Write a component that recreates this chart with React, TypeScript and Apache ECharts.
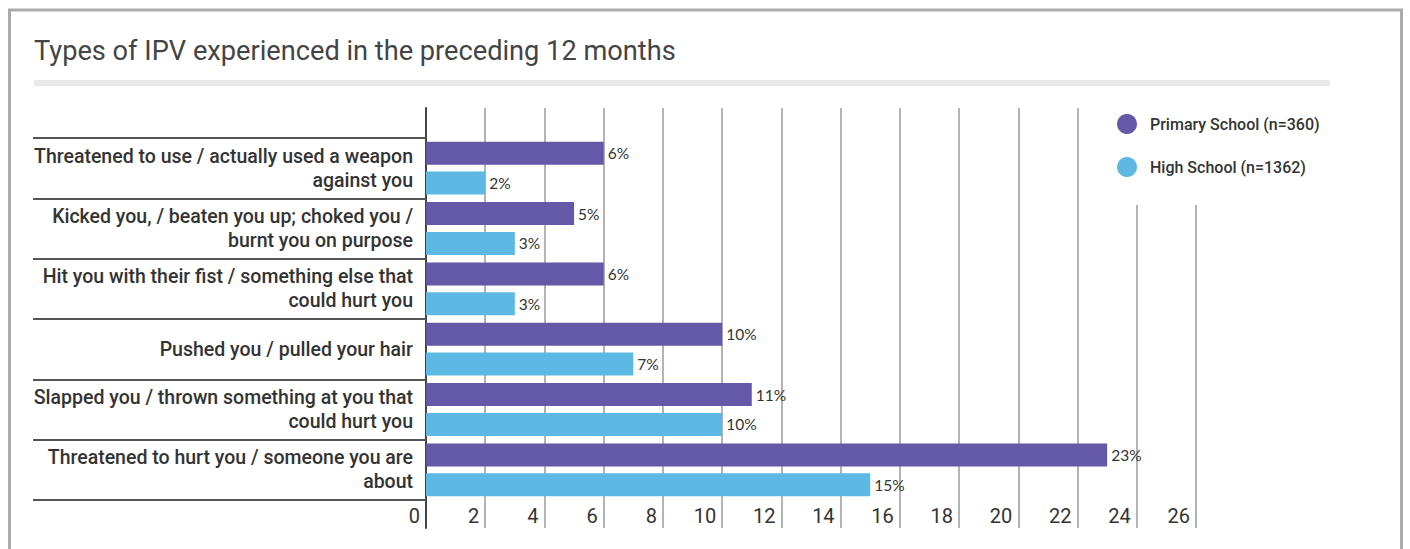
import React, { useEffect, useRef } from "react";
import * as echarts from "echarts";

const categories = [
  "Threatened to use / actually used a weapon\nagainst you",
  "Kicked you, / beaten you up; choked you /\nburnt you on purpose",
  "Hit you with their fist / something else that\ncould hurt you",
  "Pushed you / pulled your hair",
  "Slapped you / thrown something at you that\ncould hurt you",
  "Threatened to hurt you / someone you are\nabout",
];
const seriesNames = ["Primary School (n=360)", "High School (n=1362)"];
const primaryValues = [6, 5, 6, 10, 11, 23];
const highValues = [2, 3, 3, 7, 10, 15];
const xTickMax = 26;
const xTickStep = 2;
const titleText = "Types of IPV experienced in the preceding 12 months";

export default function App() {
  const ref = useRef<HTMLDivElement>(null);
  useEffect(() => {
    if (!ref.current) return;
    const chart = echarts.init(ref.current, null, { renderer: "svg" });
    const barLabel = {
      show: true,
      position: "right",
      distance: 4,
      formatter: "{c}%",
      fontSize: 15.5,
      color: "#333",
      fontFamily: "Lato",
    };
    chart.setOption({
      animation: false,
      backgroundColor: "#fff",
      title: {
        text: titleText,
        left: 34,
        top: 37,
        padding: 0,
        textStyle: { fontSize: 27.2, fontWeight: "normal", color: "#444", fontFamily: "Roboto" },
      },
      graphic: [
        {
          type: "rect",
          shape: { x: 9.5, y: 10, width: 1392, height: 600 },
          style: { fill: "none", stroke: "#ababab", lineWidth: 3 },
        },
        {
          type: "rect",
          shape: { x: 34, y: 80, width: 1296, height: 6 },
          style: { fill: "#e8e8e8" },
        },
      ],
      legend: {
        data: seriesNames,
        orient: "vertical",
        left: 1105,
        top: 104,
        backgroundColor: "#fff",
        padding: [10, 30, 28, 12],
        itemGap: 23,
        itemWidth: 36,
        itemHeight: 20,
        icon: "circle",
        textStyle: { fontSize: 16, fontWeight: 500, color: "#333", fontFamily: "Roboto" },
      },
      grid: [
        { left: 426, top: 108, width: 770, height: 420 },
        { left: 426, top: 138, width: 770, height: 362 },
      ],
      xAxis: [
        {
          type: "value",
          gridIndex: 0,
          min: 0,
          max: xTickMax,
          interval: xTickStep,
          axisLine: { show: false },
          axisTick: { show: false },
          splitLine: { show: true, lineStyle: { color: "#9a9a9a", width: 1.5 } },
          axisLabel: {
            inside: true,
            margin: 2,
            align: "right",
            padding: [0, 6, 0, 0],
            fontSize: 20,
            color: "#333",
            fontFamily: "Roboto",
          },
        },
        {
          type: "value",
          gridIndex: 1,
          min: 0,
          max: xTickMax,
          show: false,
        },
      ],
      yAxis: [
        {
          type: "value",
          gridIndex: 0,
          min: 0,
          max: 1,
          axisLine: { show: true, lineStyle: { color: "#444", width: 2 } },
          axisTick: { show: false },
          axisLabel: { show: false },
          splitLine: { show: false },
        },
        {
          type: "category",
          gridIndex: 1,
          inverse: true,
          data: categories,
          axisLine: { show: false },
          axisTick: {
            show: true,
            interval: 0,
            length: 393,
            lineStyle: { color: "#555", width: 2 },
          },
          axisLabel: {
            margin: 13,
            fontSize: 19.5,
            fontWeight: 500,
            lineHeight: 24,
            color: "#333",
            fontFamily: "Roboto",
            align: "right",
          },
        },
      ],
      series: [
        {
          name: seriesNames[0],
          type: "bar",
          xAxisIndex: 1,
          yAxisIndex: 1,
          data: primaryValues,
          barWidth: 23,
          barGap: "30%",
          itemStyle: { color: "#6459a7" },
          label: barLabel,
        },
        {
          name: seriesNames[1],
          type: "bar",
          xAxisIndex: 1,
          yAxisIndex: 1,
          data: highValues,
          barWidth: 23,
          barGap: "30%",
          itemStyle: { color: "#5db9e4" },
          label: barLabel,
        },
      ],
    });
    return () => chart.dispose();
  }, []);
  return (
    <div
      ref={ref}
      style={{ position: "absolute", left: 0, top: 0, width: 1410, height: 549 }}
    />
  );
}
